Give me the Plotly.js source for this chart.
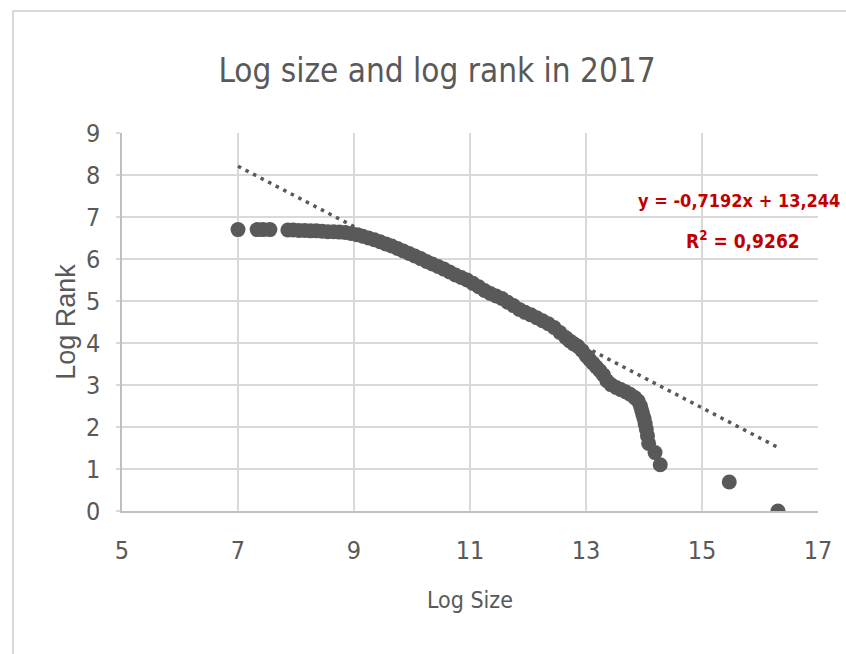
<!DOCTYPE html>
<html>
<head>
<meta charset="utf-8">
<script src="https://cdn.plot.ly/plotly-3.0.1.min.js"></script>
<style>
  html, body { margin: 0; padding: 0; background: #ffffff; }
  #frame { position: absolute; left: 12px; top: 10px; width: 900px; height: 700px;
           border-left: 2px solid #d9d9d9; border-top: 2px solid #d9d9d9; }
  #chart { position: absolute; left: 0; top: 0; width: 846px; height: 654px; }
</style>
</head>
<body>
<div id="frame"></div>
<div id="chart"></div>
<script>
// ---- data ----
const logSize = [7.00, 7.33, 7.43, 7.55, 7.86, 7.95, 8.05, 8.15, 8.25, 8.35, 8.45, 8.55, 8.65, 8.75, 8.85, 8.95,
  9.05, 9.15, 9.25, 9.35, 9.45, 9.55, 9.65, 9.75, 9.85, 9.95, 10.05, 10.15, 10.25, 10.35, 10.45, 10.55,
  10.65, 10.75, 10.85, 10.95, 11.05, 11.15, 11.25, 11.35, 11.45, 11.55, 11.65, 11.75, 11.85, 11.95,
  12.05, 12.15, 12.25, 12.35, 12.45, 12.55, 12.65, 12.72, 12.79, 12.86, 12.93, 13.00, 13.06, 13.12,
  13.18, 13.24, 13.30, 13.36, 13.43, 13.52, 13.60, 13.68, 13.76, 13.84, 13.90, 13.94, 13.96, 13.98,
  14.00, 14.02, 14.04, 14.06, 14.08, 14.19, 14.28, 15.47, 16.31];
const logRank = [6.70, 6.70, 6.70, 6.70, 6.69, 6.69, 6.68, 6.68, 6.67, 6.67, 6.66, 6.65, 6.65, 6.64, 6.63, 6.61,
  6.58, 6.54, 6.50, 6.46, 6.41, 6.36, 6.31, 6.25, 6.19, 6.13, 6.07, 6.01, 5.94, 5.88, 5.82, 5.76,
  5.69, 5.62, 5.56, 5.50, 5.42, 5.34, 5.25, 5.18, 5.12, 5.06, 4.97, 4.89, 4.80, 4.73,
  4.67, 4.60, 4.53, 4.46, 4.37, 4.25, 4.13, 4.05, 3.98, 3.92, 3.82, 3.70, 3.61, 3.52,
  3.43, 3.34, 3.24, 3.10, 3.01, 2.94, 2.89, 2.84, 2.78, 2.70, 2.62, 2.50, 2.40, 2.30,
  2.20, 2.08, 1.95, 1.79, 1.61, 1.39, 1.10, 0.69, 0.00];

// linear trendline shown in the chart
const trendSlope = -0.7192;
const trendIntercept = 13.244;
const trendXRange = [7.0, 16.3];
const trendLabel = "y = -0,7192x + 13,244";
const r2Label = "R<sup>2</sup> = 0,9262";

const xTicks = [5, 7, 9, 11, 13, 15, 17];
const yTicks = [0, 1, 2, 3, 4, 5, 6, 7, 8, 9];

const chartTitle = "Log size and log rank in 2017";
const xTitle = "Log Size";
const yTitle = "Log Rank";

// ---- build traces ----
const trendY = trendXRange.map(x => trendSlope * x + trendIntercept);

const NARROW = "'DejaVu Sans Condensed', 'Liberation Sans', sans-serif";
const GREY = "#595959";

const traces = [
  {
    type: "scatter", mode: "lines",
    x: trendXRange, y: trendY,
    line: { color: GREY, width: 3.5, dash: "3.5px,5px" },
    hoverinfo: "skip", showlegend: false
  },
  {
    type: "scatter", mode: "markers",
    x: logSize, y: logRank,
    marker: { color: GREY, size: 15, line: { width: 0 } },
    showlegend: false
  }
];

const layout = {
  width: 846, height: 654,
  margin: { l: 122, r: 28, t: 133, b: 143 },
  paper_bgcolor: "rgba(0,0,0,0)",
  plot_bgcolor: "#ffffff",
  showlegend: false,
  title: {
    text: chartTitle,
    font: { family: NARROW, size: 33, color: GREY },
    x: 0.4526, xref: "paper", xanchor: "center",
    y: 1 - 70 / 654, yref: "container", yanchor: "middle"
  },
  xaxis: {
    range: [5, 17], tickvals: xTicks, ticktext: xTicks.map(String),
    showgrid: true, gridcolor: "#d9d9d9", gridwidth: 1.8,
    zeroline: false, showline: true, linecolor: "#bfbfbf", linewidth: 1.8,
    ticks: "", ticklabelstandoff: 16,
    tickfont: { family: NARROW, size: 25, color: GREY },
    title: { text: xTitle, standoff: 28, font: { family: NARROW, size: 23, color: GREY } }
  },
  yaxis: {
    range: [0, 9], tickvals: yTicks, ticktext: yTicks.map(String),
    showgrid: true, gridcolor: "#d9d9d9", gridwidth: 1.8,
    zeroline: false, showline: true, linecolor: "#bfbfbf", linewidth: 1.8,
    ticks: "outside", ticklen: 4, tickcolor: "#d9d9d9", tickwidth: 1.8,
    ticklabelstandoff: 11,
    tickfont: { family: NARROW, size: 25, color: GREY },
    title: { text: yTitle, standoff: 2, font: { family: "'Liberation Sans', Arial, sans-serif", size: 27, color: GREY } }
  },
  annotations: [
    {
      text: trendLabel, xref: "paper", yref: "paper",
      x: (636 - 122) / 696, y: (511 - 200) / 378, xanchor: "left", yanchor: "middle",
      showarrow: false, font: { family: NARROW, size: 18, color: "#c00000", weight: "bold" }
    },
    {
      text: r2Label, xref: "paper", yref: "paper",
      x: (802 - 122) / 696, y: (511 - 240) / 378, xanchor: "right", yanchor: "middle",
      showarrow: false, font: { family: NARROW, size: 19, color: "#c00000", weight: "bold" }
    }
  ]
};

Plotly.newPlot("chart", traces, layout, { displayModeBar: false, staticPlot: true });
</script>
</body>
</html>
